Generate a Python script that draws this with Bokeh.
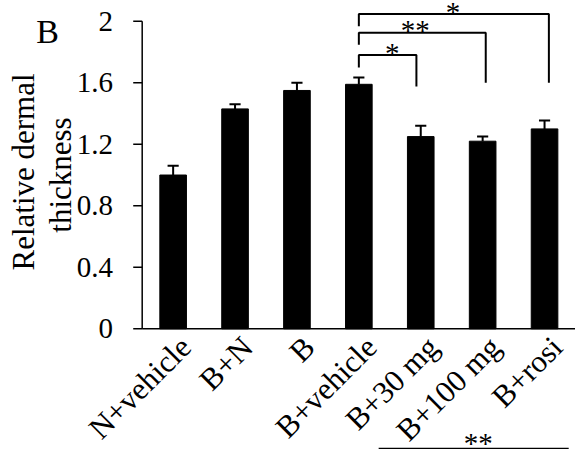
from math import pi
from bokeh.plotting import figure
from bokeh.models import Range1d
from bokeh.core.properties import value
from bokeh.embed import file_html
from bokeh.resources import INLINE

# ---- data ----
categories = ["N+vehicle", "B+N", "B", "B+vehicle", "B+30 mg", "B+100 mg", "B+rosi"]
means = [1.00, 1.43, 1.55, 1.59, 1.25, 1.22, 1.30]
errors = [0.06, 0.03, 0.05, 0.045, 0.07, 0.03, 0.055]
y_ticks = [0, 0.4, 0.8, 1.2, 1.6, 2]
y_tick_labels = ["0", "0.4", "0.8", "1.2", "1.6", "2"]
y_title_lines = ["Relative dermal", "thickness"]
panel_letter = "B"

# significance brackets (all start from B+vehicle)
bracket_from = [4, 4, 4]
bracket_to = [4.93, 6.05, 7.07]
bracket_top = [1.78, 1.925, 2.048]
bracket_left_end = [1.70, 1.847, 1.967]
bracket_right_end = [1.575, 1.60, 1.60]
bracket_text = ["*", "**", "*"]
bracket_text_x = [4.54, 4.91, 5.52]

# bottom comparison line
bottom_line_x = [4.32, 7.39]
bottom_line_y = -0.78
bottom_text = "**"
bottom_text_x = 5.93

FONT = "Liberation Serif"

xs = list(range(1, len(categories) + 1))
tops = [m + e for m, e in zip(means, errors)]
x0, x1 = 0.5, len(categories) + 0.5          # axis extent (data)
ymin, ymax = y_ticks[0], y_ticks[-1]

p = figure(width=575, height=449,
           x_range=Range1d(-1.789, 7.5), y_range=Range1d(-0.785, 2.135),
           output_backend="svg", toolbar_location=None,
           x_axis_location=None, y_axis_location=None,
           min_border_left=0, min_border_right=0,
           min_border_top=0, min_border_bottom=0)
p.outline_line_color = None
p.grid.visible = False
p.background_fill_color = "white"
p.border_fill_color = "white"

# bars
p.vbar(x=xs, top=means, width=0.43, color="black")
# error bars (upper only)
p.segment(x0=xs, y0=means, x1=xs, y1=tops, line_color="black", line_width=2)
cap = 0.09
p.segment(x0=[x - cap for x in xs], y0=tops, x1=[x + cap for x in xs], y1=tops,
          line_color="black", line_width=2)

# x axis line
p.segment(x0=[x0], y0=[ymin], x1=[x1], y1=[ymin], line_color="black", line_width=1.5)

# y axis line, ticks, labels
tick_len = 0.145
p.segment(x0=[x0], y0=[ymin], x1=[x0], y1=[ymax], line_color="black", line_width=1.5)
p.segment(x0=[x0 - tick_len] * len(y_ticks), y0=y_ticks, x1=[x0] * len(y_ticks), y1=y_ticks,
          line_color="black", line_width=1.5)
p.text(x=[x0 - 0.47] * len(y_ticks), y=y_ticks, text=y_tick_labels,
       text_align="right", text_baseline="middle",
       text_font=value(FONT), text_font_size="29px", text_color="black")

# category labels
p.text(x=xs, y=[-0.005] * len(xs), text=categories, angle=pi / 4,
       text_align="right", text_baseline="top",
       text_font=value(FONT), text_font_size="31px", text_color="black")

# brackets
bx, by = [], []
for a, b, t, l, r in zip(bracket_from, bracket_to, bracket_top, bracket_left_end, bracket_right_end):
    bx.append([a, a, b, b])
    by.append([l, t, t, r])
p.multi_line(xs=bx, ys=by, line_color="black", line_width=2)
p.text(x=bracket_text_x, y=[t + 0.015 for t in bracket_top], text=bracket_text,
       text_align="center", text_baseline="middle",
       text_font=value(FONT), text_font_size="29px", text_color="black")

# bottom line
p.segment(x0=[bottom_line_x[0]], y0=[bottom_line_y], x1=[bottom_line_x[1]], y1=[bottom_line_y],
          line_color="black", line_width=2)
p.text(x=[bottom_text_x], y=[bottom_line_y + 0.04], text=[bottom_text],
       text_align="center", text_baseline="middle",
       text_font=value(FONT), text_font_size="29px", text_color="black")

# y axis title (two lines)
p.text(x=[-1.418, -0.82], y=[1.02, 1.0], text=y_title_lines, angle=pi / 2,
       text_align="center", text_baseline="middle",
       text_font=value(FONT), text_font_size="31px", text_color="black")
# panel letter
p.text(x=[-1.03], y=[1.933], text=[panel_letter],
       text_align="center", text_baseline="middle",
       text_font=value(FONT), text_font_size="34px", text_color="black")

open("out.html", "w").write(file_html(p, INLINE))
